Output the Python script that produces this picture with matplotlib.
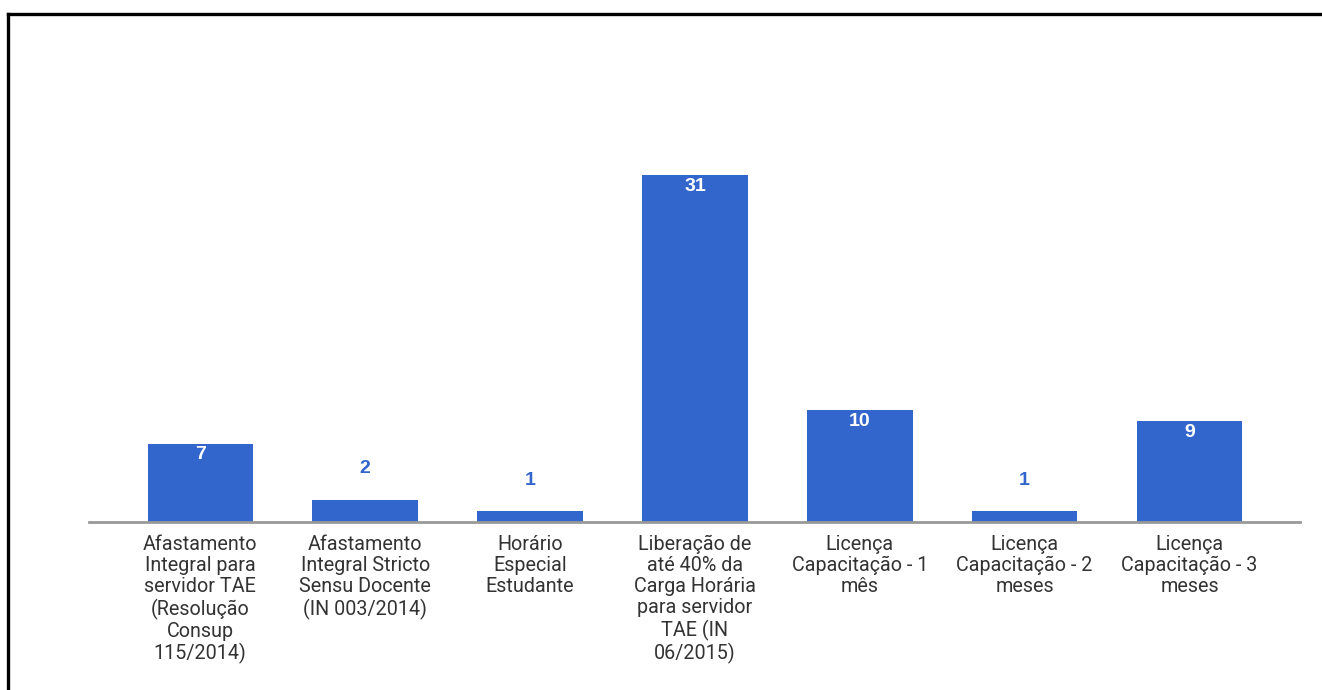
#!/usr/bin/env python

""" Bar chart of training leave types (Google Charts style). """

import matplotlib
matplotlib.use("Agg")
import matplotlib.pyplot as plt
from matplotlib.lines import Line2D


# Chart data
categories = [
    "Afastamento\nIntegral para\nservidor TAE\n(Resolução\nConsup\n115/2014)",
    "Afastamento\nIntegral Stricto\nSensu Docente\n(IN 003/2014)",
    "Horário\nEspecial\nEstudante",
    "Liberação de\naté 40% da\nCarga Horária\npara servidor\nTAE (IN\n06/2015)",
    "Licença\nCapacitação - 1\nmês",
    "Licença\nCapacitação - 2\nmeses",
    "Licença\nCapacitação - 3\nmeses",
]
values = [7, 2, 1, 31, 10, 1, 9]

bar_color = "#3366cc"
plt.rcParams['font.family'] = ['Roboto', 'DejaVu Sans']

fig = plt.figure(figsize=(13.22, 6.90), dpi=100)
ax = fig.add_axes([89 / 1322, 1 - 522 / 690, (1300 - 89) / 1322, 392 / 690])

x = list(range(len(values)))
bars = ax.bar(x, values, width=0.64, color=bar_color, zorder=2)

ax.set_xlim(-0.675, 6.67)
ax.set_ylim(0, 35)

# Value labels: inside for tall bars, above for short ones
for xi, v in zip(x, values):
    if v >= 5:
        ax.annotate(str(v), (xi, v), xytext=(0, -2), textcoords="offset points",
                    ha="center", va="top", color="white", fontsize=14,
                    fontweight="bold", family=['Liberation Sans', 'DejaVu Sans'])
    else:
        ax.annotate(str(v), (xi, v), xytext=(0, 16), textcoords="offset points",
                    ha="center", va="bottom", color=bar_color, fontsize=14,
                    fontweight="bold", family=['Liberation Sans', 'DejaVu Sans'])

ax.set_xticks(x)
ax.set_xticklabels(categories, fontsize=14.2, color="#333333", linespacing=1.15)
ax.tick_params(axis="x", length=0, pad=9)
ax.set_yticks([])

for side in ["top", "right", "left"]:
    ax.spines[side].set_visible(False)
ax.spines["bottom"].set_color("#999999")
ax.spines["bottom"].set_linewidth(2)
ax.spines["bottom"].set_zorder(3)

# Outer frame (only top and left visible in the original crop)
fig.add_artist(Line2D([8 / 1322, 1.0], [1 - 14 / 690, 1 - 14 / 690],
                      color="black", linewidth=2.4))
fig.add_artist(Line2D([8 / 1322, 8 / 1322], [0.0, 1 - 14 / 690],
                      color="black", linewidth=2.4))

fig.savefig("out.png", dpi=100, facecolor="white")
